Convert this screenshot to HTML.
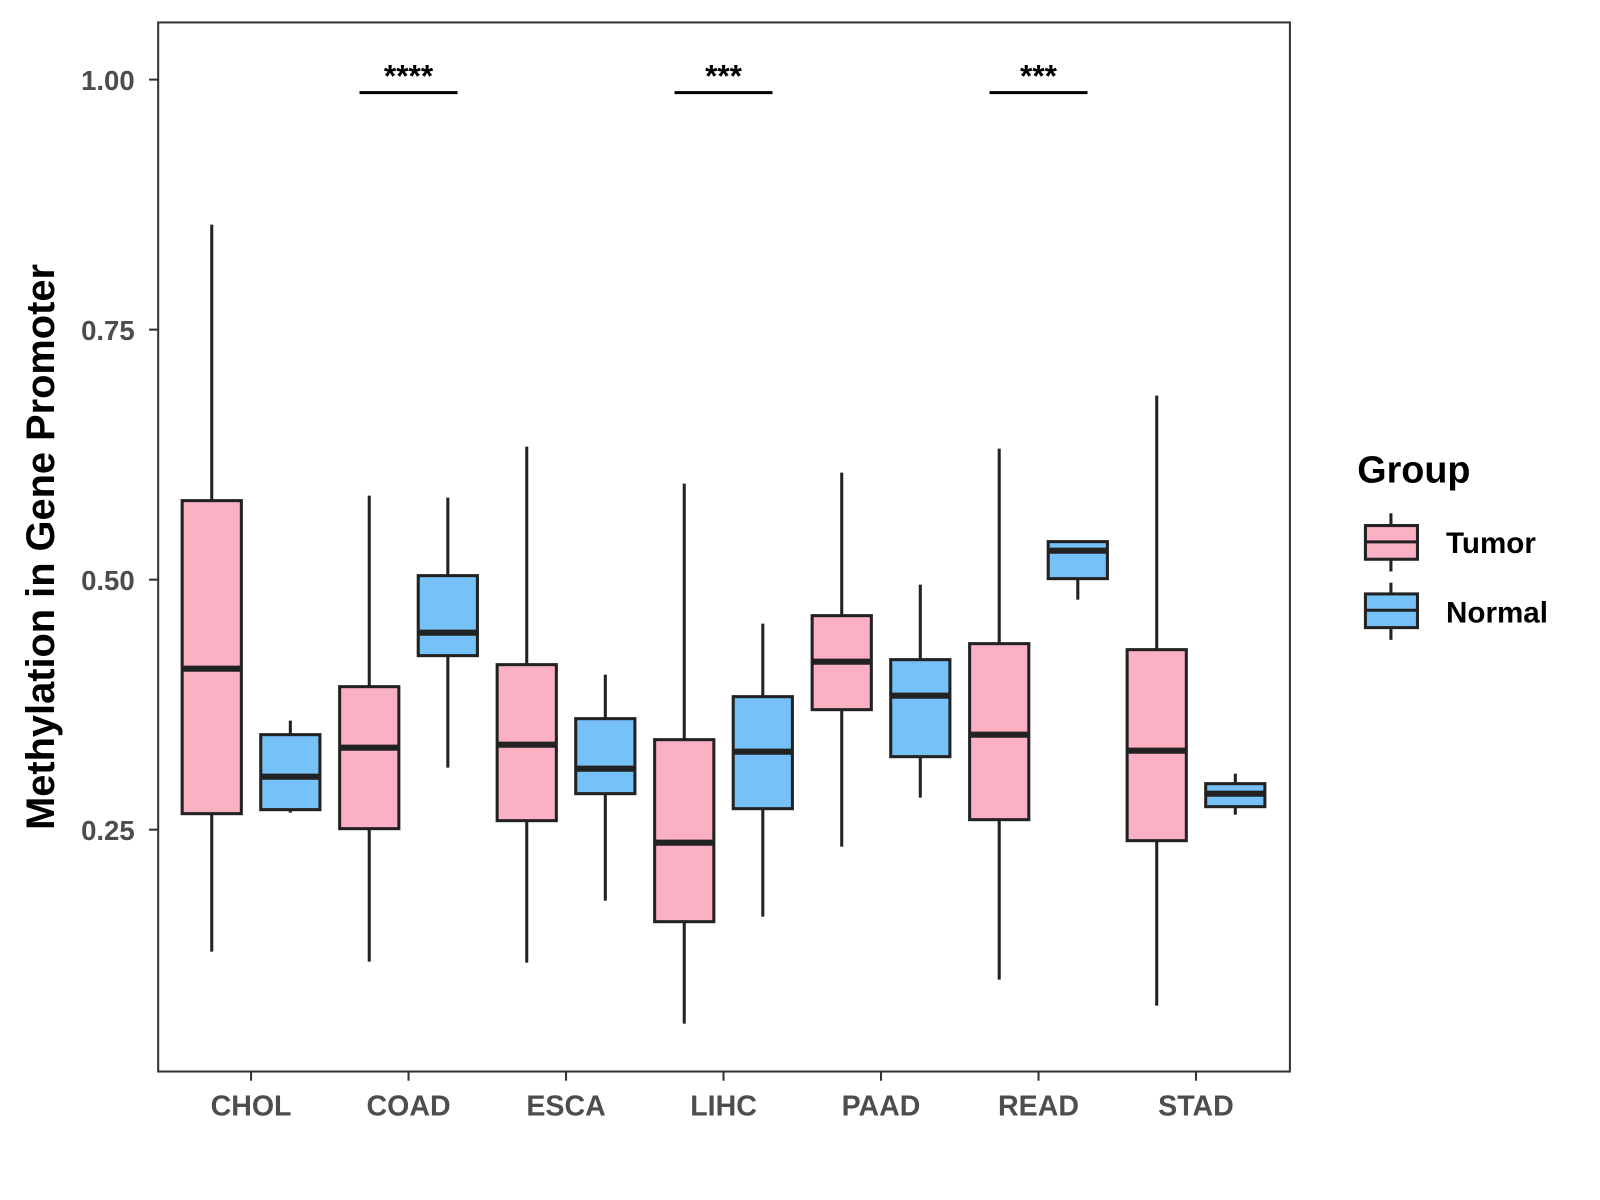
<!DOCTYPE html>
<html><head><meta charset="utf-8"><style>body{margin:0;background:#fff}svg{display:block}</style></head>
<body>
<svg width="1600" height="1200" xmlns="http://www.w3.org/2000/svg" font-family="Liberation Sans, sans-serif">
<g id="chart" transform="scale(1.0205)">
<rect x="155" y="22" width="1109" height="1028" fill="#fff" stroke="#333" stroke-width="2"/>
<g id="marks"></g>
<text transform="translate(53,536) rotate(-90)" text-anchor="middle" font-size="39" font-weight="bold">Methylation in Gene Promoter</text>
<text x="1330" y="473" font-size="37" font-weight="bold">Group</text>
<g>
<line x1="1363" y1="503" x2="1363" y2="560" stroke="#222" stroke-width="3"/>
<rect x="1338" y="515" width="51" height="33" fill="#FBB1C3" stroke="#222" stroke-width="3"/>
<line x1="1338" y1="531" x2="1389" y2="531" stroke="#222" stroke-width="3"/>
<text x="1417" y="542" font-size="29" font-weight="bold">Tumor</text></g>
<g>
<line x1="1363" y1="571" x2="1363" y2="627" stroke="#222" stroke-width="3"/>
<rect x="1338" y="582" width="51" height="33" fill="#76C1F8" stroke="#222" stroke-width="3"/>
<line x1="1338" y1="598" x2="1389" y2="598" stroke="#222" stroke-width="3"/>
<text x="1417" y="610" font-size="29" font-weight="bold">Normal</text></g>
</g>
</svg>
<script>
const categories=["CHOL","COAD","ESCA","LIHC","PAAD","READ","STAD"];
const tumorMin=[0.128,0.118,0.117,0.056,0.233,0.100,0.074];
const tumorQ1=[0.266,0.251,0.259,0.158,0.370,0.260,0.239];
const tumorMed=[0.411,0.332,0.335,0.237,0.418,0.345,0.329];
const tumorQ3=[0.579,0.393,0.415,0.340,0.464,0.436,0.430];
const tumorMax=[0.855,0.584,0.633,0.596,0.607,0.631,0.684];
const normalMin=[0.267,0.312,0.179,0.163,0.282,0.480,0.265];
const normalQ1=[0.270,0.424,0.286,0.271,0.323,0.501,0.273];
const normalMed=[0.303,0.447,0.311,0.328,0.384,0.529,0.286];
const normalQ3=[0.345,0.504,0.361,0.383,0.420,0.538,0.296];
const normalMax=[0.359,0.582,0.405,0.456,0.495,0.538,0.306];
const yTicks=[0.25,0.50,0.75,1.00];
const yTickLabels=["0.25","0.50","0.75","1.00"];
const sigCategories=["COAD","LIHC","READ"];
const sigLabels=["****","***","***"];
const sigLevel=0.987;

const y=v=>78+(1-v)*980;
const x=i=>246+i*154.33;
const NS="http://www.w3.org/2000/svg";
const g=document.getElementById('marks');
function mk(tag,attrs,parent){const e=document.createElementNS(NS,tag);for(const k in attrs)e.setAttribute(k,attrs[k]);(parent||g).appendChild(e);return e;}
yTicks.forEach((t,i)=>{
 const l=mk('line',{x1:146,x2:155,y1:y(t),y2:y(t),stroke:'#333','stroke-width':2});
 
 
 const tx=mk('text',{x:132,y:y(t)+10,'text-anchor':'end','font-size':27,'font-weight':'bold',fill:'#4d4d4d'});
 tx.textContent=yTickLabels[i];
 
 
});
categories.forEach((c,i)=>{
 const l=mk('line',{x1:x(i),x2:x(i),y1:1050,y2:1059,stroke:'#333','stroke-width':2});
 
 
 const tx=mk('text',{x:x(i),y:1093,'text-anchor':'middle','font-size':28,'font-weight':'bold',fill:'#4d4d4d'});
 tx.textContent=c;
 
 
});
function box(cx,mn,q1,md,q3,mx,fill,name){
 const grp=mk('g',{});
 
 
 mk('line',{x1:cx,x2:cx,y1:y(mx),y2:y(mn),stroke:'#222','stroke-width':3},grp);
 mk('rect',{x:cx-29,y:y(q3),width:58,height:y(q1)-y(q3),fill:fill,stroke:'#222','stroke-width':3},grp);
 mk('line',{x1:cx-29,x2:cx+29,y1:y(md),y2:y(md),stroke:'#222','stroke-width':6},grp);
}
categories.forEach((c,i)=>{
 box(x(i)-38.5,tumorMin[i],tumorQ1[i],tumorMed[i],tumorQ3[i],tumorMax[i],'#FBB1C3','box-tumor-'+c.toLowerCase());
 box(x(i)+38.5,normalMin[i],normalQ1[i],normalMed[i],normalQ3[i],normalMax[i],'#76C1F8','box-normal-'+c.toLowerCase());
});
sigCategories.forEach((c,k)=>{
 const i=categories.indexOf(c);
 const l=mk('line',{x1:x(i)-48,x2:x(i)+48,y1:y(sigLevel),y2:y(sigLevel),stroke:'#000','stroke-width':3});
 
 
 const t=mk('text',{x:x(i),y:y(sigLevel)-6,'text-anchor':'middle','font-size':31,'font-weight':'bold'});
 t.textContent=sigLabels[k];
 
 
});
</script>
</body></html>
